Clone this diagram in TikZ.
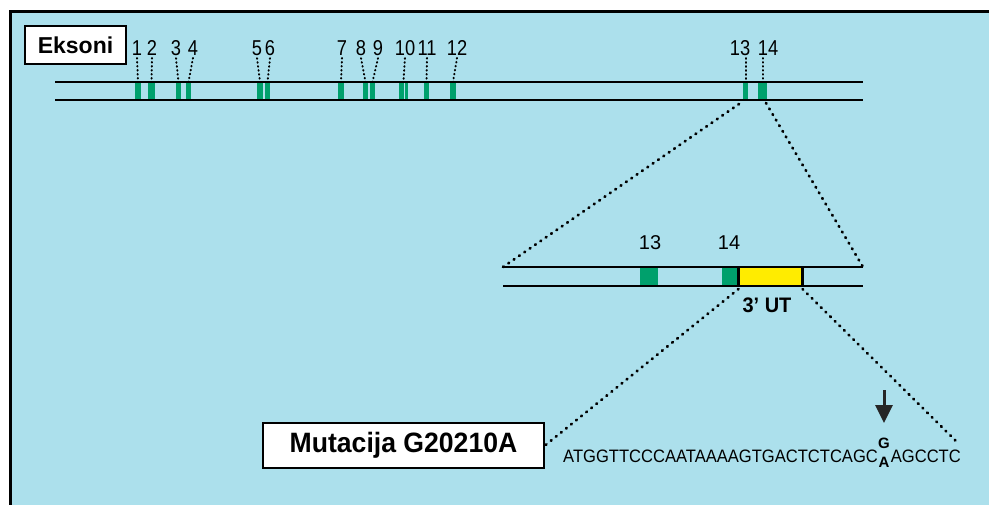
\documentclass[tikz,border=0pt]{standalone}
\usepackage{fontspec}
\setmainfont{Liberation Sans}
\newfontfamily\topfont[FakeStretch=0.85]{Liberation Sans}
\newfontfamily\mutfont[FakeStretch=0.95]{Liberation Sans}
\newfontfamily\seqfont[FakeStretch=0.92]{Liberation Sans}
\usetikzlibrary{arrows.meta}
\definecolor{bg}{RGB}{172,224,236}
\definecolor{exgreen}{RGB}{0,160,108}
\definecolor{utryellow}{RGB}{255,236,0}
\tikzset{
  exon/.style={fill=exgreen, inner sep=0pt, outer sep=0pt, minimum height=18pt, anchor=north west},
  dexon/.style={fill=exgreen, inner sep=0pt, outer sep=0pt, minimum height=19pt, anchor=north west},
  toplab/.style={inner sep=0pt, outer sep=3pt, anchor=base, font=\topfont\fontsize{21.5}{22}\selectfont},
  detlab/.style={inner sep=0pt, anchor=base, font=\fontsize{20}{22}\selectfont},
  leader/.style={line width=2pt, dash pattern=on 0.6pt off 3.4pt, line cap=round},
  zoomline/.style={line width=2.8pt, dash pattern=on 0.8pt off 5.7pt, line cap=round},
  dna/.style={line width=2pt},
  labelbox/.style={draw, line width=2pt, fill=white, inner sep=0pt},
  bar/.style={line width=3pt}
}
\begin{document}
\begin{tikzpicture}[x=1pt,y=-1pt]
\useasboundingbox (0,0) rectangle (989,504);
\clip (0,0) rectangle (989,504);
% background and frame
\fill[white] (0,0) rectangle (989,504);
\fill[bg] (10,11) rectangle (1000,520);
\draw[line width=3pt] (10,520) -- (10,11) -- (1000,11);

% ---------- top gene ----------
\node[exon, minimum width=6pt] (e1) at (135,82) {};
\node[exon, minimum width=7pt] (e2) at (148,82) {};
\node[exon, minimum width=5pt] (e3) at (176,82) {};
\node[exon, minimum width=5pt] (e4) at (186,82) {};
\node[exon, minimum width=6pt] (e5) at (257,82) {};
\node[exon, minimum width=5pt] (e6) at (265,82) {};
\node[exon, minimum width=6pt] (e7) at (338,82) {};
\node[exon, minimum width=5pt] (e8) at (363,82) {};
\node[exon, minimum width=5pt] (e9) at (370,82) {};
\node[exon, minimum width=4.5pt] (e10) at (399,82) {};
\node[exon, minimum width=3pt] (e10b) at (404.5,82) {};
\node[exon, minimum width=5pt] (e11) at (424,82) {};
\node[exon, minimum width=6pt] (e12) at (450,82) {};
\node[exon, minimum width=5pt] (e13) at (743,82) {};
\node[exon, minimum width=9pt] (e14) at (758,82) {};

\coordinate (tA1) at (55,82);  \coordinate (tA2) at (863,82);
\coordinate (tB1) at (55,100); \coordinate (tB2) at (863,100);
\draw[dna] (tA1) -- (tA2);
\draw[dna] (tB1) -- (tB2);

\node[labelbox, minimum width=101pt, minimum height=38pt] (eks) at (75.5,45)
  {\bfseries\fontsize{23}{24}\selectfont Eksoni};

\node[toplab] (l1) at (137,55) {1};
\node[toplab] (l2) at (152,55) {2};
\node[toplab] (l3) at (176,55) {3};
\node[toplab] (l4) at (193,55) {4};
\node[toplab] (l5) at (257,55) {5};
\node[toplab] (l6) at (270,55) {6};
\node[toplab] (l7) at (342,55) {7};
\node[toplab] (l8) at (361,55) {8};
\node[toplab] (l9) at (378,55) {9};
\node[toplab] (l10) at (405,55) {10};
\node[toplab] (l11) at (427,55) {11};
\node[toplab] (l12) at (457,55) {12};
\node[toplab] (l13) at (740,55) {13};
\node[toplab] (l14) at (768,55) {14};

\draw[leader] (l1.south) -- (e1.north);
\draw[leader] (l2.south) -- (e2.north);
\draw[leader] (l3.south) -- (e3.north);
\draw[leader] (l4.south) -- (e4.north);
\draw[leader] (l5.south) -- (e5.north);
\draw[leader] (l6.south) -- (e6.north);
\draw[leader] (l7.south) -- (e7.north);
\draw[leader] (l8.south) -- (e8.north);
\draw[leader] (l9.south) -- (e9.north);
\draw[leader] (l10.south) -- (e10.north east);
\draw[leader] (l11.south) -- (e11.north);
\draw[leader] (l12.south) -- (e12.north);
\draw[leader] (l13.south -| e13.north) -- (e13.north);
\draw[leader] (l14.south -| e14.north) -- (e14.north);

% ---------- detail ----------
\node[dexon, minimum width=18pt] (d13) at (640,267) {};
\node[dexon, minimum width=16pt] (d14) at (722,267) {};
\node[fill=utryellow, inner sep=0pt, outer sep=0pt, minimum width=64pt, minimum height=19pt, anchor=north west] (utr) at (738.5,267) {};
\draw[bar] (utr.north west) -- (utr.south west);
\draw[bar] (utr.north east) -- (utr.south east);

\coordinate (dA1) at (503,267); \coordinate (dA2) at (863,267);
\coordinate (dB1) at (503,286); \coordinate (dB2) at (863,286);
\draw[dna] (dA1) -- (dA2);
\draw[dna] (dB1) -- (dB2);

\node[detlab] (n13) at (650,249) {13};
\node[detlab] (n14) at (729,249) {14};
\node[inner sep=0pt, anchor=base, font=\mutfont\bfseries\fontsize{21}{22}\selectfont] (utrlab) at (767,312) {3’ UT};

% zoom lines from top gene to detail
\coordinate (zl) at (739,104);
\coordinate (zr) at (766,103);
\draw[zoomline] (zl) -- (dA1);
\draw[zoomline] (zr) -- (dA2);

% ---------- mutation ----------
\node[labelbox, minimum width=281pt, minimum height=45pt] (mut) at (403.5,445.5)
  {\mutfont\bfseries\fontsize{28}{30}\selectfont Mutacija G20210A};

\node[inner sep=0pt, anchor=base west, font=\seqfont\fontsize{18}{20}\selectfont] (seq1) at (563,462) {ATGGTTCCCAATAAAAGTGACTCTCAGC};
\node[inner sep=0pt, anchor=base, font=\bfseries\fontsize{15}{16}\selectfont] (gG) at (884,448) {G};
\node[inner sep=0pt, anchor=base, font=\bfseries\fontsize{15}{16}\selectfont] (gA) at (884,467) {A};
\node[inner sep=0pt, anchor=base east, font=\seqfont\fontsize{18}{20}\selectfont] (seq2) at (961,462) {AGCCTC};

\coordinate (arrtop) at (884,390);
\coordinate (arrtip) at (884,423);
\draw[line width=3pt, black!85, -{Triangle[width=17pt,length=18pt]}] (arrtop) -- (arrtip);

\coordinate (zend) at (958,443);
\draw[zoomline] ([yshift=-3pt]utr.south west) -- (mut.east);
\draw[zoomline] ([yshift=-3pt]utr.south east) -- (zend);
\end{tikzpicture}
\end{document}
